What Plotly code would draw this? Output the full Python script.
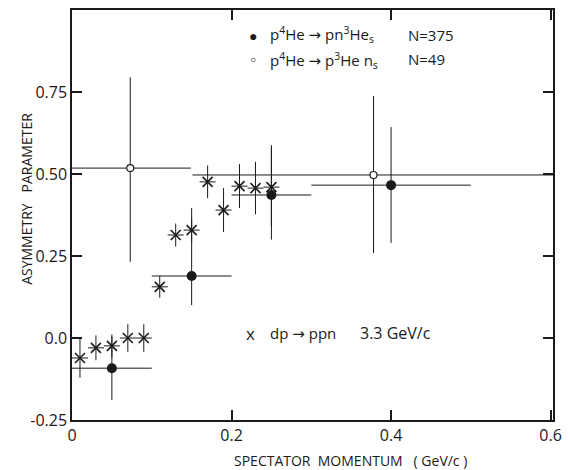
import plotly.graph_objects as go

# --- data ---
# p 4He -> p n 3He_s (filled circles)
filled_x = [0.05, 0.15, 0.25, 0.40]
filled_y = [-0.092, 0.189, 0.436, 0.466]
filled_xlo = [0.05, 0.05, 0.05, 0.10]
filled_xhi = [0.05, 0.05, 0.05, 0.10]
filled_ylo = [0.097, 0.089, 0.136, 0.176]
filled_yhi = [0.097, 0.207, 0.152, 0.177]

# p 4He -> p 3He n_s (open circles)
open_x = [0.073, 0.378]
open_y = [0.518, 0.497]
open_xlo = [0.073, 0.227]
open_xhi = [0.076, 0.25]
open_ylo = [0.286, 0.238]
open_yhi = [0.277, 0.241]

# dp -> ppn 3.3 GeV/c (crosses)
star_x = [0.01, 0.03, 0.05, 0.07, 0.09, 0.11, 0.13, 0.15, 0.17, 0.19, 0.21, 0.23, 0.25]
star_y = [-0.061, -0.030, -0.024, 0.0, 0.0, 0.156, 0.314, 0.329, 0.476, 0.39, 0.463, 0.457, 0.46]
star_yerr = [0.06, 0.038, 0.035, 0.042, 0.042, 0.033, 0.035, 0.035, 0.05, 0.067, 0.067, 0.08, 0.12]
star_xerr = [0.01] * 13

x_ticks = [0, 0.2, 0.4, 0.6]
x_ticklabels = ["0", "0.2", "0.4", "0.6"]
y_ticks = [-0.25, 0.0, 0.25, 0.5, 0.75]
y_ticklabels = ["-0.25", "0.0", "0.25", "0.50", "0.75"]

INK = "#1a1a1a"
FONT = "Open Sans"

fig = go.Figure()

fig.add_trace(go.Scatter(
    x=star_x, y=star_y, mode="markers",
    marker=dict(symbol="x-thin-open", size=10, color=INK, line=dict(color=INK, width=1.6)),
    error_y=dict(type="data", array=star_yerr, color=INK, thickness=1, width=0),
    error_x=dict(type="data", array=star_xerr, color=INK, thickness=1, width=0),
    showlegend=False,
))

fig.add_trace(go.Scatter(
    x=open_x, y=open_y, mode="markers",
    marker=dict(symbol="circle", size=7, color="white", line=dict(color=INK, width=1.2)),
    error_y=dict(type="data", symmetric=False, array=open_yhi, arrayminus=open_ylo,
                 color=INK, thickness=1, width=0),
    error_x=dict(type="data", symmetric=False, array=open_xhi, arrayminus=open_xlo,
                 color=INK, thickness=1, width=0),
    showlegend=False,
))

fig.add_trace(go.Scatter(
    x=filled_x, y=filled_y, mode="markers",
    marker=dict(symbol="circle", size=10, color=INK, line=dict(color=INK, width=0)),
    error_y=dict(type="data", symmetric=False, array=filled_yhi, arrayminus=filled_ylo,
                 color=INK, thickness=1, width=0),
    error_x=dict(type="data", symmetric=False, array=filled_xhi, arrayminus=filled_xlo,
                 color=INK, thickness=1, width=0),
    showlegend=False,
))

axis_common = dict(
    showline=True, linecolor=INK, linewidth=1.5, mirror="ticks",
    ticks="inside", ticklen=10, tickwidth=1.5, tickcolor=INK,
    showgrid=False, zeroline=False,
    tickfont=dict(family=FONT, size=16, color=INK),
)

fig.update_layout(
    width=570, height=470,
    margin=dict(l=72, r=8, t=10, b=50),
    paper_bgcolor="white", plot_bgcolor="white",
    xaxis=dict(range=[0, 0.603], tickvals=x_ticks, ticktext=x_ticklabels, **axis_common),
    yaxis=dict(range=[-0.25, 1.0], tickvals=y_ticks, ticktext=y_ticklabels, **axis_common),
    font=dict(family=FONT, color=INK),
)

def ann(text, x, y, size=15, xanchor="left", **kw):
    fig.add_annotation(text=text, xref="paper", yref="paper", x=x, y=y,
                       xanchor=xanchor, yanchor="middle", showarrow=False,
                       font=dict(family=FONT, size=size, color=INK), **kw)

ARROW = "<span style='font-family:DejaVu Sans'>→</span>"

# legend-like labels inside the plot
ann("●", 0.376, 0.938, size=14, xanchor="center")
ann(f"p<sup>4</sup>He {ARROW} pn<sup>3</sup>He<sub>s</sub>", 0.408, 0.940)
ann("N=375", 0.694, 0.938)
ann("○", 0.376, 0.880, size=10, xanchor="center")
ann(f"p<sup>4</sup>He {ARROW} p<sup>3</sup>He n<sub>s</sub>", 0.408, 0.876)
ann("N=49", 0.694, 0.880)

ann("x", 0.372, 0.212, size=17, xanchor="center")
ann(f"dp {ARROW} ppn", 0.408, 0.212)
ann("3.3 GeV/c", 0.594, 0.212, size=16)

# axis titles
ann("SPECTATOR  MOMENTUM   ( GeV/c )", 0.58, -0.098, size=14, xanchor="center")
ann("ASYMMETRY   PARAMETER", -0.096, 0.539, size=14, xanchor="center", textangle=-90)

fig.write_html("out.html")
